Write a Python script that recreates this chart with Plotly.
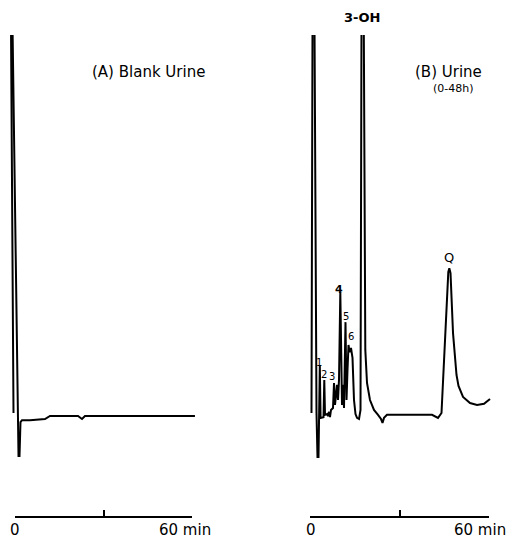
import plotly.graph_objects as go

# ---------------- data (retention time in min, detector response in arbitrary units) -------------
# Panel A: blank urine
time_a = [-0.51, -1.36, -0.85, 0.85, 1.19, 1.53, 1.86, 2.37, 5.08, 10.17, 11.86,
          15.25, 21.36, 22.71, 23.73, 28.8, 45.8, 61.0]
resp_a = [0.8, 103, 103, 0.3, -10.5, -10.5, -1.6, -1.1, -1.1, -0.8, 0.0,
          0.0, 0.0, -0.8, 0.0, 0.0, 0.0, 0.0]

# Panel B: urine (0-48 h)
time_b = [0.50, 0.84, 1.51, 2.18, 2.51, 2.85, 3.02, 3.29, 3.55, 4.02, 4.53, 4.79, 5.03,
          5.70, 6.03, 6.37, 6.70, 7.04, 7.71, 8.05, 8.38, 8.72, 9.05, 9.39, 9.72, 10.16,
          10.56, 10.73, 11.06, 11.40, 11.90, 12.24, 12.57, 12.91, 13.24, 13.74, 14.25,
          14.75, 15.25, 15.76, 16.43, 16.93, 17.26, 18.03, 18.54, 19.11, 20.11, 21.45,
          22.80, 23.80, 24.30, 24.81, 25.81, 30.17, 36.88, 40.90, 42.91, 44.08, 46.36,
          46.70, 47.10, 47.94, 49.11, 49.78, 51.29, 53.64, 55.99, 58.33, 60.34]
resp_b = [0.8, 103, 103, 0.8, -10.8, -10.8, -1.6, 13.2, -0.5, -0.3, -0.3, 9.5, 0.3,
          0.5, 0.0, 1.1, -0.3, 1.6, 2.1, 8.7, 2.9, 5.5, 8.2, 4.2, 9.5, 32.6,
          5.5, 2.9, 8.2, 2.1, 24.7, 4.2, 12.1, 18.7, 16.8, 17.9, 15.3,
          4.2, 0.5, -0.5, -0.8, 1.6, 103, 103, 17.4, 8.7, 4.2, 1.6,
          0.3, -0.8, -1.8, -0.5, 0.3, 0.3, 0.3, 0.3, -0.5, 0.8, 37.9,
          38.9, 37.6, 21.8, 10.8, 7.9, 5.0, 3.4, 2.9, 3.2, 4.5]

# peak labels (panel B): text, retention time, response at label
peak_text = ["1", "2", "3", "<b>4</b>", "5", "6", "Q"]
peak_time = [2.95, 4.69, 7.27, 9.72, 11.97, 13.64, 46.70]
peak_resp = [14.2, 10.8, 10.5, 33.2, 26.1, 20.8, 41.6]
peak_size = [10, 10, 10, 11, 10, 10, 13]

scale_ticks = [0, 30, 60]

# ---------------- layout geometry --------------------------------------------------------------
# The page body has an 8px default margin, so the figure is drawn 8px in from the
# window's top-left corner; all page positions below are converted with OFF.
OFF = 8
PAGE_W, PAGE_H = 527, 541
W, H = PAGE_W - OFF, PAGE_H - OFF


def px_x(p):  # page x pixel -> paper fraction
    return (p - OFF) / W


def px_y(p):  # page y pixel -> paper fraction
    return 1 - (p - OFF) / H


# page pixel position of 0 and 60 min on each time-scale bar
a0, a60 = 15, 192
b0, b60 = 310, 489
sa = (a60 - a0) / 60.0
sb = (b60 - b0) / 60.0
a_dom = (OFF, 263)
b_dom = (264, OFF + W)
y_top_px, y_bot_px = 35, 517
base_px = 416
unit_px = 3.8
y_range = [-(y_bot_px - base_px) / unit_px, (base_px - y_top_px) / unit_px]

FONT = "DejaVu Sans, Arial, sans-serif"

fig = go.Figure()
line = dict(color="black", width=2)
fig.add_trace(go.Scatter(x=time_a, y=resp_a, mode="lines", line=line,
                         xaxis="x", yaxis="y", hoverinfo="skip"))
fig.add_trace(go.Scatter(x=time_b, y=resp_b, mode="lines", line=line,
                         xaxis="x2", yaxis="y", hoverinfo="skip"))

hidden = dict(visible=False, showgrid=False, zeroline=False, fixedrange=True)
scale_axis = dict(range=[0, 60], showline=True, linecolor="black", linewidth=1.5,
                  ticks="inside", ticklen=6, tickwidth=1.5, tickcolor="black",
                  tickvals=scale_ticks, showticklabels=False, showgrid=False,
                  zeroline=False, anchor="free", position=px_y(y_bot_px), fixedrange=True)

fig.update_layout(
    width=W, height=H,
    margin=dict(l=0, r=0, t=0, b=0, pad=0),
    paper_bgcolor="white", plot_bgcolor="rgba(0,0,0,0)",
    showlegend=False,
    font=dict(family=FONT, color="black"),
    xaxis=dict(hidden, domain=[px_x(a_dom[0]), px_x(a_dom[1])],
               range=[(a_dom[0] - a0) / sa, (a_dom[1] - a0) / sa]),
    xaxis2=dict(hidden, domain=[px_x(b_dom[0]), px_x(b_dom[1])],
                range=[(b_dom[0] - b0) / sb, (b_dom[1] - b0) / sb]),
    xaxis3=dict(scale_axis, domain=[px_x(a0), px_x(a60)]),
    xaxis4=dict(scale_axis, domain=[px_x(b0), px_x(b60)]),
    yaxis=dict(hidden, domain=[px_y(y_bot_px), px_y(y_top_px)], range=y_range),
)

common = dict(showarrow=False, xanchor="center", yanchor="middle")
ann = []
for t, x, y, s in zip(peak_text, peak_time, peak_resp, peak_size):
    ann.append(dict(common, text=t, x=x, y=y, xref="x2", yref="y",
                    font=dict(size=s, family=FONT)))
ann.append(dict(common, text="<b>3-OH</b>", x=17.43, y=px_y(17), xref="x2", yref="paper",
                font=dict(size=13, family=FONT)))
ann.append(dict(common, text="(A) Blank Urine", x=px_x(148), y=px_y(72),
                xref="paper", yref="paper", font=dict(size=15, family=FONT)))
ann.append(dict(common, text="(B) Urine", x=px_x(448), y=px_y(72),
                xref="paper", yref="paper", font=dict(size=15, family=FONT)))
ann.append(dict(common, text="(0-48h)", x=px_x(453), y=px_y(88),
                xref="paper", yref="paper", font=dict(size=11, family=FONT)))
for xr, x0, x60 in (("x3", 0.0, 57.6), ("x4", 0.3, 57.0)):
    ann.append(dict(common, text="0", x=x0, y=px_y(530), xref=xr, yref="paper",
                    font=dict(size=15, family=FONT)))
    ann.append(dict(common, text="60 min", x=x60, y=px_y(530), xref=xr, yref="paper",
                    font=dict(size=15, family=FONT)))
fig.update_layout(annotations=ann)

fig.write_html("out.html")
